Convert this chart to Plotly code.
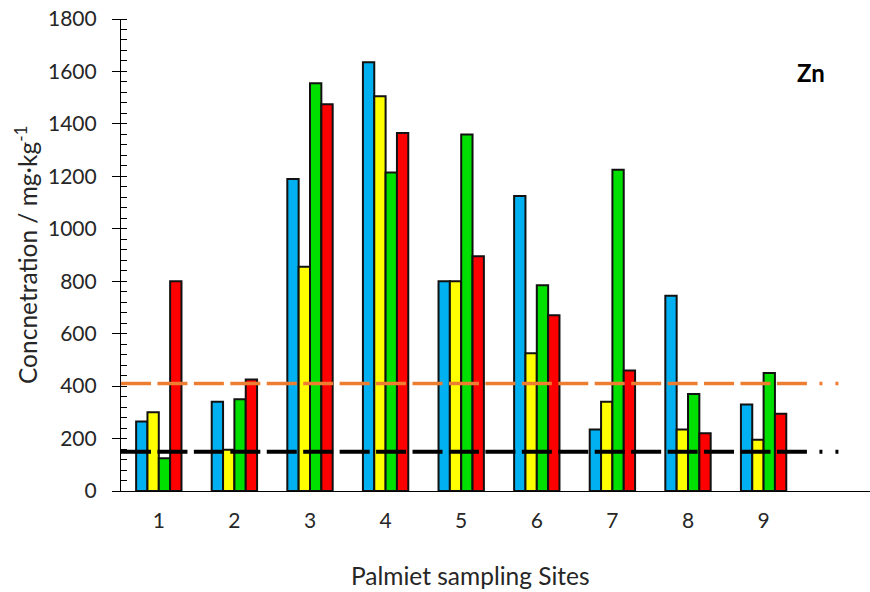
import plotly.graph_objects as go

# Zn concentration per Palmiet sampling site, four sampling runs
sites = [1, 2, 3, 4, 5, 6, 7, 8, 9]
site_labels = ["1", "2", "3", "4", "5", "6", "7", "8", "9"]
run_a = [265, 340, 1190, 1635, 800, 1125, 235, 745, 330]
run_b = [300, 157, 855, 1505, 800, 525, 340, 235, 195]
run_c = [125, 350, 1555, 1215, 1360, 785, 1225, 370, 450]
run_d = [800, 425, 1475, 1365, 895, 670, 460, 220, 295]

# reference limits drawn as horizontal lines
limit_upper = 410
limit_lower = 150
limit_span = [0.5, 10.0]

series = [
    ("Run A", run_a, "#00B0F0"),
    ("Run B", run_b, "#FFFF00"),
    ("Run C", run_c, "#00E000"),
    ("Run D", run_d, "#FF0000"),
]

FONT = "Lato, 'Open Sans', sans-serif"
TXT = "#262626"

fig = go.Figure()
for name, vals, col in series:
    fig.add_trace(go.Bar(
        x=sites, y=vals, name=name,
        marker=dict(color=col, line=dict(color="#111111", width=2)),
    ))

# long dashes finishing with two dots
dash = ",".join(["30px", "6.44px"] * 18) + ",30px,12.5px,3px,13px,3px,200px"
for val, col, w in [(limit_upper, "#ED7D31", 3.5), (limit_lower, "black", 4)]:
    fig.add_trace(go.Scatter(
        x=limit_span, y=[val, val], mode="lines",
        line=dict(color=col, width=w, dash=dash),
        hoverinfo="skip",
    ))

fig.update_layout(
    width=870, height=592,
    margin=dict(l=121, r=0, t=19, b=101),
    paper_bgcolor="white", plot_bgcolor="white",
    barmode="group", bargap=0.4, bargroupgap=0,
    showlegend=False,
    font=dict(family=FONT, size=21, color=TXT),
    xaxis=dict(
        range=[0.5, 0.5 + 749 / 75.6],
        tickmode="array", tickvals=sites, ticktext=site_labels,
        showline=True, linecolor="black", linewidth=1.2,
        ticks="outside", ticklen=11, tickcolor="rgba(0,0,0,0)",
        showgrid=False, zeroline=False,
        tickfont=dict(family=FONT, size=21, color=TXT),
    ),
    yaxis=dict(
        range=[0, 1800], dtick=200,
        showline=True, linecolor="black", linewidth=1.2,
        ticks="outside", ticklen=8, tickwidth=1.2, tickcolor="black",
        ticklabelstandoff=11,
        minor=dict(dtick=40, ticks="inside", ticklen=6, tickwidth=1, tickcolor="black"),
        showgrid=False, zeroline=False,
        tickfont=dict(family=FONT, size=21, color=TXT),
    ),
    yaxis2=dict(
        overlaying="y", range=[0, 1800], dtick=200,
        ticks="inside", ticklen=6, tickwidth=1.2, tickcolor="black",
        showticklabels=False, showline=False, showgrid=False, zeroline=False,
    ),
)

# invisible trace so the overlay axis draws its ticks
fig.add_trace(go.Scatter(x=[None], y=[None], yaxis="y2", showlegend=False))

fig.add_annotation(
    text="Concnetration / mg·kg<sup>-1</sup>",
    xref="paper", yref="paper", x=(26 - 121) / 749, y=(491 - 255) / 472,
    textangle=-90, showarrow=False, xanchor="center", yanchor="middle",
    font=dict(family=FONT, size=24.5, color=TXT),
)
fig.add_annotation(
    text="Palmiet sampling Sites",
    xref="paper", yref="paper", x=(470 - 121) / 749, y=-(575 - 491) / 472,
    showarrow=False, xanchor="center", yanchor="middle",
    font=dict(family=FONT, size=24.5, color=TXT),
)
fig.add_annotation(
    text="<b>Zn</b>",
    xref="paper", yref="paper", x=(811 - 121) / 749, y=(491 - 72) / 472,
    showarrow=False, xanchor="center", yanchor="middle",
    font=dict(family=FONT, size=24, color="black"),
)

fig.write_html("out.html")
